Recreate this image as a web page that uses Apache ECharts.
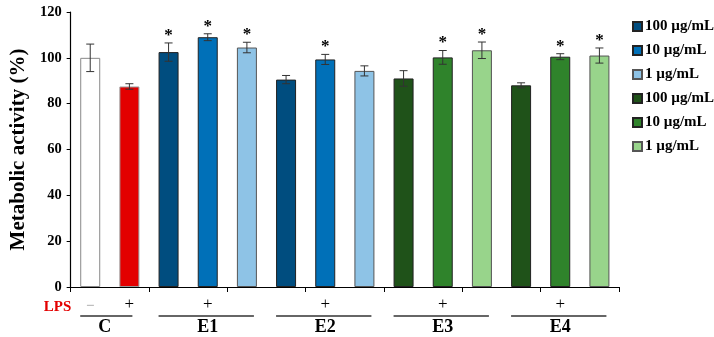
<!DOCTYPE html>
<html><head><meta charset="utf-8">
<script src="https://cdn.jsdelivr.net/npm/echarts@6/dist/echarts.min.js"></script>
<style>html,body{margin:0;padding:0;background:#fff}#c{width:714px;height:337px}</style>
</head><body><div id="c"></div>
<script>
// ---- data ----
var categories = ['C-','C+','E1-100','E1-10','E1-1','E2-100','E2-10','E2-1','E3-100','E3-10','E3-1','E4-100','E4-10','E4-1'];
var values =     [100, 87.5, 102.5, 109, 104.5, 90.5, 99.3, 94.3, 91, 100.2, 103.3, 88, 100.5, 101];
var errors =     [6,   1.2,  4,     1.5, 2.3,   1.8,  2.2,  2.2,  3.4, 3,    3.6,  1.1, 1.3,  3.3];
var significant = [0,0,1,1,1,0,1,0,0,1,1,0,1,1];
var groupOf =    [0,1,2,3,4,2,3,4,5,6,7,5,6,7]; // series index of each bar
var seriesNames = ['control','LPS','100 µg/mL','10 µg/mL','1 µg/mL','100 µg/mL\u200b','10 µg/mL\u200b','1 µg/mL\u200b'];
var lpsSigns = ['\u2212','+','+','+','+','+'];
var groupLabels = ['C','E1','E2','E3','E4'];
var groupRanges = [[0,1],[2,4],[5,7],[8,10],[11,13]];
var yTicks = {min:0, max:120, interval:20};

// ---- styles ----
var colors = ['#ffffff','#e30000','#004d7f','#0070b8','#8ec3e6','#1f5219','#2f832b','#98d48b'];
var borders = ['#888888','#999999','#222222','#222222','#555555','#222222','#222222','#555555'];
var FONT = '"Liberation Serif","Times New Roman",serif';

var barSeries = seriesNames.map(function(n, si){
  return {
    name: n, type: 'bar', barWidth: 20, barGap: '-100%',
    itemStyle: {color: colors[si], borderColor: borders[si], borderWidth: 1},
    data: values.map(function(v,i){ return groupOf[i]===si ? v : '-'; }),
    z: 2
  };
});

var errData = values.map(function(v,i){ return [i, v, errors[i], significant[i]]; });

var chart = echarts.init(document.getElementById('c'));
chart.setOption({
  animation: false,
  grid: {left: 67, right: 95, top: 12, bottom: 50},
  legend: {
    data: seriesNames.slice(2),
    orient: 'vertical', left: 627, top: 14, itemGap: 9,
    itemWidth: 9, itemHeight: 9, icon: 'rect',
    textStyle: {fontFamily: FONT, fontWeight: 'bold', fontSize: 15, color: '#000', padding: [0,0,0,-2]},
    selectedMode: false
  },
  xAxis: {
    type: 'category', data: categories,
    axisLine: {lineStyle: {color: '#000', width: 1.2}},
    axisTick: {show: true, length: 5, lineStyle: {color: '#000'}},
    axisLabel: {show: false}
  },
  yAxis: {
    type: 'value', min: yTicks.min, max: yTicks.max, interval: yTicks.interval,
    name: 'Metabolic activity (%)', nameLocation: 'middle', nameGap: 34,
    nameTextStyle: {fontFamily: FONT, fontWeight: 'bold', fontSize: 21, color: '#000'},
    axisLine: {show: true, lineStyle: {color: '#000', width: 1.2}},
    axisTick: {show: true, length: 4, lineStyle: {color: '#000'}},
    axisLabel: {fontFamily: FONT, fontWeight: 'bold', fontSize: 14.5, color: '#000', margin: 9},
    splitLine: {show: false}
  },
  series: barSeries.concat([{
    type: 'custom', name: 'err', data: errData, z: 5,
    renderItem: function(params, api){
      var x = api.value(0), v = api.value(1), e = api.value(2), s = api.value(3);
      var top = api.coord([x, v+e]), bot = api.coord([x, v-e]);
      var cap = 4;
      var st = {stroke: '#333', lineWidth: 1};
      var ch = [
        {type:'line', shape:{x1:top[0],y1:top[1],x2:bot[0],y2:bot[1]}, style:st},
        {type:'line', shape:{x1:top[0]-cap,y1:top[1],x2:top[0]+cap,y2:top[1]}, style:st},
        {type:'line', shape:{x1:bot[0]-cap,y1:bot[1],x2:bot[0]+cap,y2:bot[1]}, style:st}
      ];
      if (s) ch.push({type:'text', x: top[0], y: top[1]+1, style:{text:'*', fontFamily: FONT, fontWeight:'bold', fontSize: 17, fill:'#000', align:'center', verticalAlign:'bottom'}});
      return {type:'group', children: ch};
    }
  }])
});

// annotations below the axis, positioned through the axis scale
var g = [];
var baseY = chart.convertToPixel({yAxisIndex:0}, 0);
function px(i){ return chart.convertToPixel({xAxisIndex:0}, categories[i]); }
g.push({type:'text', x: px(0)-19, y: baseY+20, style:{text:'LPS', fontFamily: FONT, fontWeight:'bold', fontSize:15, fill:'#e30000', align:'right', verticalAlign:'middle'}});
g.push({type:'text', x: px(0), y: baseY+19, style:{text: lpsSigns[0], fontFamily: FONT, fontSize:15, fill:'#999', align:'center', verticalAlign:'middle'}});
g.push({type:'text', x: px(1), y: baseY+18, style:{text: lpsSigns[1], fontFamily: FONT, fontSize:17, fill:'#000', align:'center', verticalAlign:'middle'}});
groupRanges.forEach(function(r, k){
  var a = px(r[0]), b = px(r[1]);
  var mid = (a+b)/2;
  var x1, x2, lx = mid;
  if (k===0){ x1 = a-10; x2 = b+3; lx = mid-5; } else { x1 = a-10; x2 = b+7; }
  g.push({type:'line', shape:{x1:x1, y1:baseY+29, x2:x2, y2:baseY+29}, style:{stroke:'#333', lineWidth:1.3}});
  if (k>0) g.push({type:'text', x: mid, y: baseY+18, style:{text: lpsSigns[k+1], fontFamily: FONT, fontSize:17, fill:'#000', align:'center', verticalAlign:'middle'}});
  g.push({type:'text', x: lx, y: baseY+40, style:{text: groupLabels[k], fontFamily: FONT, fontWeight:'bold', fontSize:18, fill:'#000', align:'center', verticalAlign:'middle'}});
});
chart.setOption({graphic: g});
</script></body></html>
